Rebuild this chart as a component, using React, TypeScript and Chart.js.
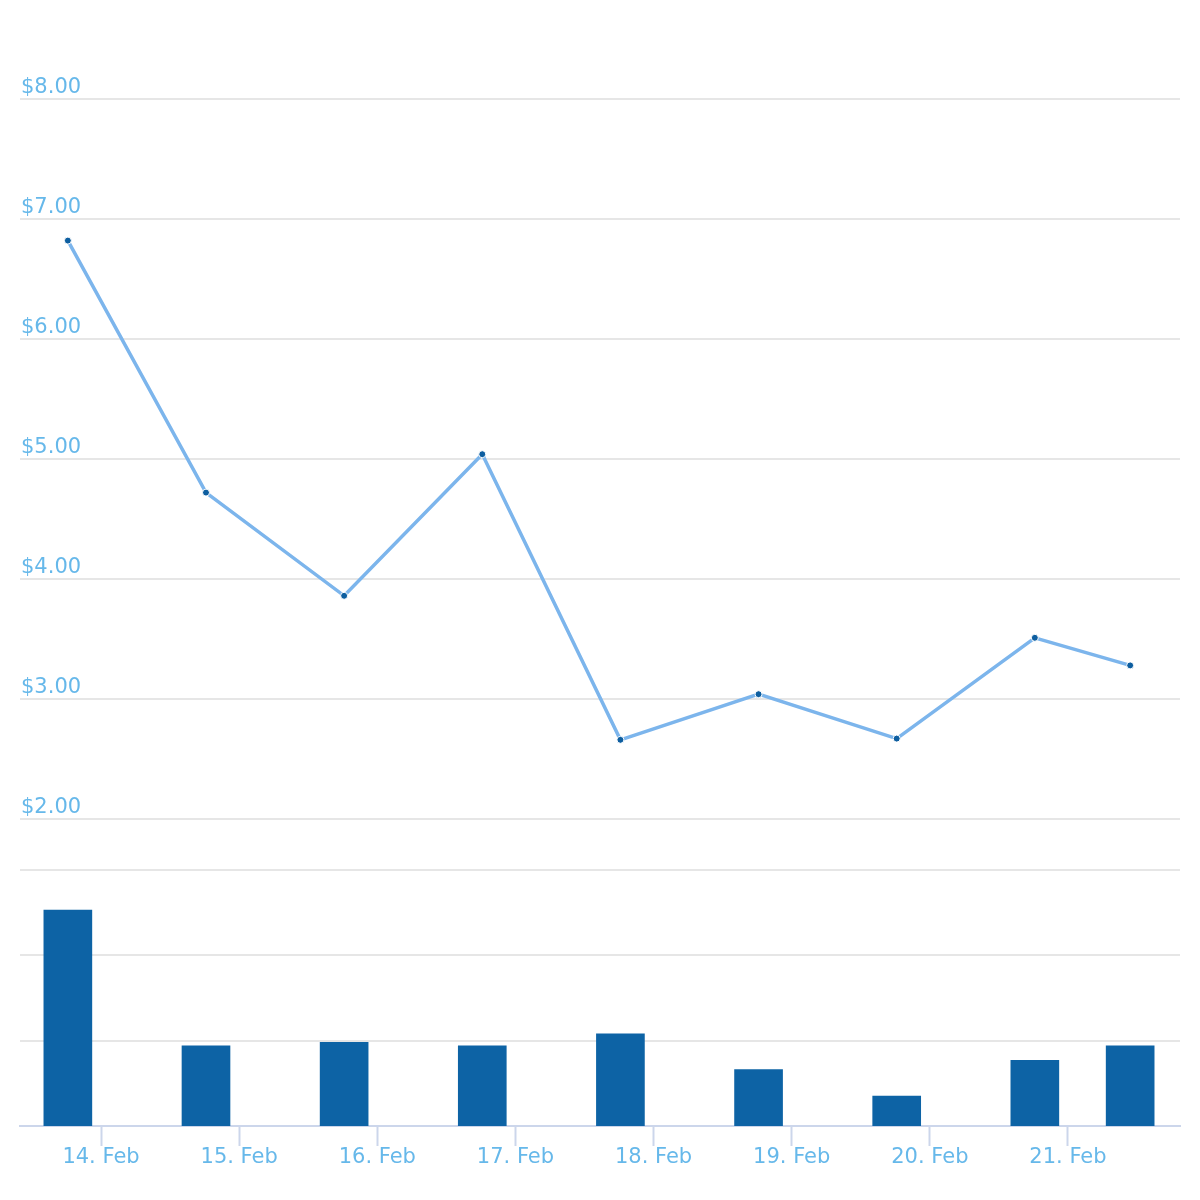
import React, { useEffect, useRef } from "react";
import { Chart, registerables } from "chart.js";

Chart.register(...registerables);

// Day positions (day of February, fractional) of each observation
const obsDays = [13.76, 14.76, 15.76, 16.76, 17.76, 18.76, 19.76, 20.76, 21.45];
// Price series (USD)
const prices = [6.82, 4.72, 3.86, 5.04, 2.66, 3.04, 2.67, 3.51, 3.28];
// Volume series
const volumes = [25300, 9400, 9800, 9400, 10800, 6600, 3500, 7700, 9400];

// Axis ticks
const xTickDays = [14, 15, 16, 17, 18, 19, 20, 21];
const xTickLabels = ["14. Feb", "15. Feb", "16. Feb", "17. Feb", "18. Feb", "19. Feb", "20. Feb", "21. Feb"];
const priceTicks = [2, 3, 4, 5, 6, 7, 8];
const volumeTicks = [10000, 20000, 30000];

// Scale ranges (layout of the two panes on one canvas)
const X_MIN = 13.4136;
const X_MAX = 21.8108;
const PRICE_MIN = -0.5583;
const PRICE_MAX = 8.5;
const VOL_MIN = 0;
const VOL_MAX = 127383;

const LABEL_COLOR = "#66b8ea";
const GRID_COLOR = "#e6e6e6";
const AXIS_COLOR = "#ccd6eb";
const FONT = { family: "'DejaVu Sans', Verdana, sans-serif", size: 21 };

export default function App() {
  const ref = useRef<HTMLCanvasElement | null>(null);

  useEffect(() => {
    if (!ref.current) return;
    const chart = new Chart(ref.current, {
      data: {
        datasets: [
          {
            type: "line",
            label: "Price",
            data: obsDays.map((d, i) => ({ x: d, y: prices[i] })),
            yAxisID: "yPrice",
            borderColor: "#7cb5ec",
            borderWidth: 3.5,
            tension: 0,
            pointRadius: 3.5,
            pointBackgroundColor: "#0d5ea0",
            pointBorderColor: "#ffffff",
            pointBorderWidth: 1,
            order: 1,
          },
          {
            type: "bar",
            label: "Volume",
            data: obsDays.map((d, i) => ({ x: d, y: volumes[i] })),
            yAxisID: "yVol",
            backgroundColor: "#0d63a5",
            barThickness: 48,
            order: 2,
          },
        ],
      },
      options: {
        animation: false,
        responsive: false,
        maintainAspectRatio: false,
        layout: { autoPadding: false, padding: { top: 39, left: 20, right: 20, bottom: 0 } },
        plugins: { legend: { display: false }, tooltip: { enabled: false } },
        scales: {
          x: {
            type: "linear",
            min: X_MIN,
            max: X_MAX,
            offset: false,
            afterBuildTicks: (s: any) => {
              s.ticks = xTickDays.map((v) => ({ value: v }));
            },
            afterFit: (s: any) => {
              s.height = 74;
            },
            ticks: {
              color: LABEL_COLOR,
              font: FONT,
              padding: -1,
              maxRotation: 0,
              autoSkip: false,
              callback: (v: any) => {
                const i = xTickDays.indexOf(Number(v));
                return i >= 0 ? xTickLabels[i] : "";
              },
            },
            grid: {
              offset: false,
              drawOnChartArea: false,
              drawTicks: true,
              tickLength: 20,
              tickColor: AXIS_COLOR,
              tickWidth: 2,
            },
            border: { display: true, color: AXIS_COLOR, width: 2 },
          },
          yPrice: {
            type: "linear",
            position: "left",
            min: PRICE_MIN,
            max: PRICE_MAX,
            afterBuildTicks: (s: any) => {
              s.ticks = priceTicks.map((v) => ({ value: v }));
            },
            afterFit: (s: any) => {
              s.width = 0;
            },
            ticks: {
              mirror: true,
              padding: 1,
              labelOffset: -11,
              color: LABEL_COLOR,
              font: FONT,
              callback: (v: any) => "$" + Number(v).toFixed(2),
            },
            grid: { color: GRID_COLOR, lineWidth: 2, drawTicks: false },
            border: { display: false },
          },
          yVol: {
            type: "linear",
            position: "left",
            min: VOL_MIN,
            max: VOL_MAX,
            afterBuildTicks: (s: any) => {
              s.ticks = volumeTicks.map((v) => ({ value: v }));
            },
            afterFit: (s: any) => {
              s.width = 0;
            },
            ticks: { display: false },
            grid: { color: GRID_COLOR, lineWidth: 2, drawTicks: false },
            border: { display: false },
          },
        },
      },
    } as any);
    return () => chart.destroy();
  }, []);

  return (
    <div style={{ position: "absolute", left: 0, top: 0, width: 1200, height: 1200, background: "#fff" }}>
      <canvas ref={ref} width={1200} height={1200} style={{ width: 1200, height: 1200 }} />
    </div>
  );
}
